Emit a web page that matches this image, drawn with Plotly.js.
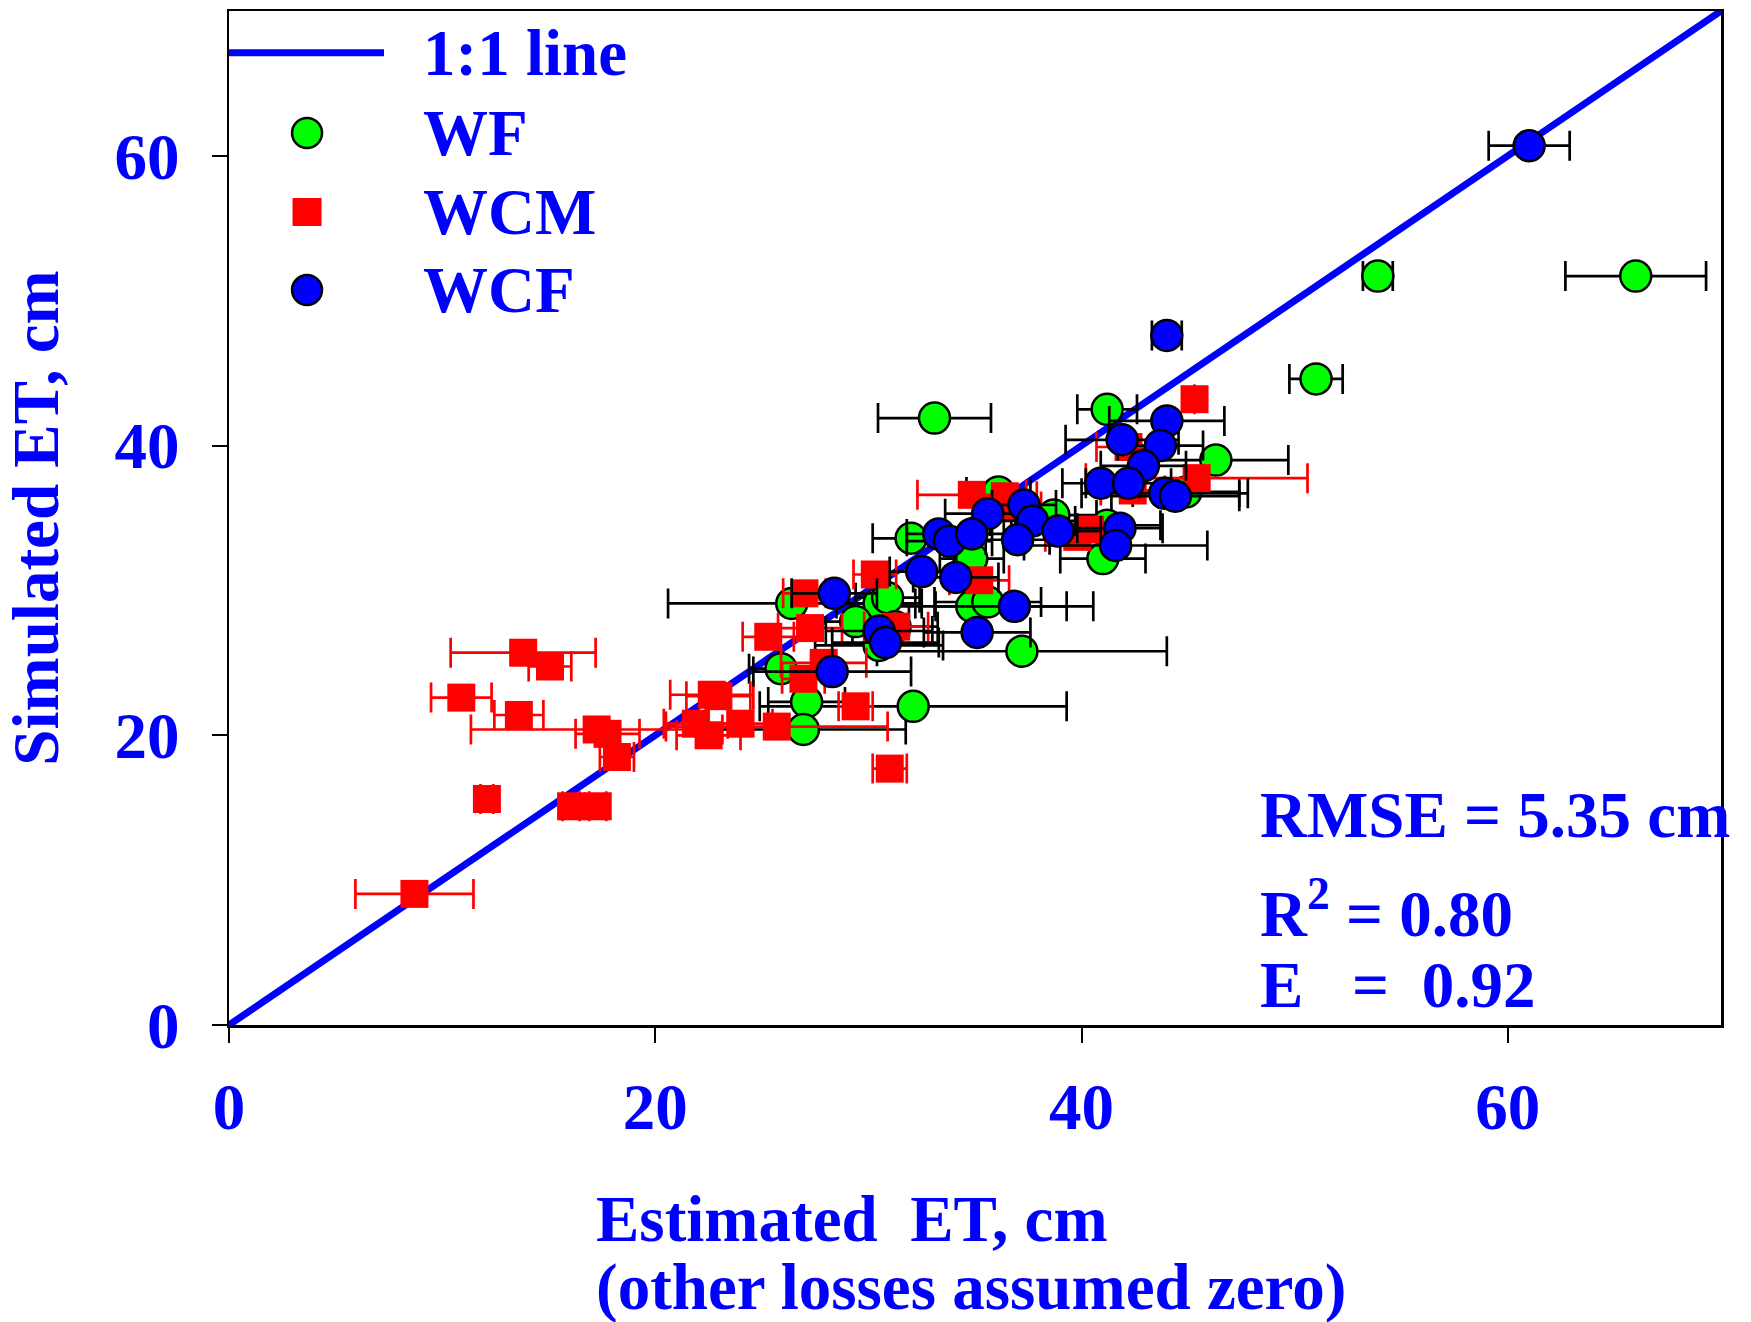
<!DOCTYPE html>
<html>
<head>
<meta charset="utf-8">
<script src="https://cdn.plot.ly/plotly-3.0.1.min.js"></script>
<style>html,body{margin:0;padding:0;background:#fff;}</style>
</head>
<body>
<div id="chart" style="width:1751px;height:1322px;"></div>
<script>
// ---- data ----
const oneToOneX = [0, 70];
const oneToOneY = [0, 70];

const wfX   = [66.0, 53.9, 51.0, 33.1, 41.2, 46.3, 44.9, 36.1, 38.7, 41.2, 41.0, 32.0, 34.85, 30.5, 30.9, 34.85, 35.6, 29.4, 30.5, 31.25, 37.2, 26.4, 25.9, 27.1, 26.95, 32.1];
const wfY   = [51.7, 51.7, 44.6, 41.9, 42.5, 39.0, 36.8, 36.8, 35.2, 34.5, 32.2, 33.6, 32.2, 29.1, 29.5, 28.9, 29.2, 27.85, 26.2, 27.5, 25.8, 29.1, 24.6, 22.3, 20.4, 22.0];
const wfErr = [3.3, 0.7, 1.25, 2.65, 1.4, 3.4, 2.5, 1.5, 2.0, 2.5, 2.0, 1.8, 1.5, 2.0, 1.5, 4.45, 2.5, 2.5, 3.0, 2.0, 6.8, 5.8, 1.5, 1.8, 4.8, 7.2];

const wcmX   = [8.7, 12.1, 16.05, 17.3, 13.8, 15.06, 10.9, 13.6, 17.25, 17.76, 18.2, 22.65, 22.96, 21.9, 22.5, 24.0, 25.7, 29.4, 31.0, 25.3, 26.95, 27.9, 27.26, 27.0, 30.3, 31.3, 34.85, 36.4, 35.2, 39.8, 40.4, 45.3, 42.2, 45.4, 42.4, 36.6];
const wcmY   = [9.05, 15.6, 15.1, 15.1, 25.7, 24.75, 22.6, 21.4, 20.4, 20.1, 18.5, 22.8, 22.7, 20.8, 20.0, 20.8, 20.6, 22.0, 17.7, 26.8, 23.9, 25.0, 27.4, 29.8, 31.1, 27.5, 36.6, 36.5, 30.7, 33.7, 34.2, 43.2, 39.9, 37.75, 36.9, 35.8];
const wcmErr = [2.77, 0.3, 0.4, 0.4, 3.4, 1.0, 1.42, 1.15, 5.9, 1.5, 0.8, 1.95, 1.5, 1.5, 1.5, 1.5, 5.2, 0.8, 0.8, 1.2, 1.0, 2.0, 1.5, 1.0, 1.0, 1.5, 2.55, 1.5, 1.4, 1.5, 1.5, 0, 1.5, 5.2, 1.5, 1.5];

const wcfX   = [61.0, 44.0, 44.0, 41.9, 43.7, 42.9, 40.9, 42.2, 43.9, 44.4, 37.3, 37.7, 38.9, 37.0, 41.8, 41.6, 35.6, 33.3, 33.8, 34.85, 32.5, 34.1, 28.4, 36.85, 30.5, 30.8, 35.1, 28.3];
const wcfY   = [60.7, 47.6, 41.7, 40.4, 40.0, 38.6, 37.4, 37.4, 36.7, 36.5, 35.9, 34.8, 34.1, 33.5, 34.3, 33.1, 35.3, 33.9, 33.4, 33.9, 31.3, 30.9, 29.8, 28.9, 27.2, 26.4, 27.1, 24.4];
const wcfErr = [1.9, 0.7, 2.7, 2.65, 2.0, 2.0, 1.8, 2.0, 3.9, 3.0, 1.5, 2.0, 2.0, 1.5, 2.0, 4.3, 2.0, 1.5, 2.0, 1.5, 1.5, 2.0, 2.0, 3.7, 2.5, 2.5, 2.5, 3.7];

const tickVals = [0, 20, 40, 60];
const tickText = ['0', '20', '40', '60'];
const seriesNames = ['1:1 line', 'WF', 'WCM', 'WCF'];
const statsLines = ['RMSE = 5.35 cm', 'R<sup>2</sup> = 0.80', 'E\u00A0\u00A0\u00A0=\u00A0\u00A00.92'];
const xTitleLines = ['Estimated\u00A0\u00A0ET, cm', '(other losses assumed zero)'];
const yTitle = 'Simulated ET, cm';

// ---- styles ----
const FONT = "'Liberation Serif', 'Times New Roman', serif";
const BLUE = '#0000FF';
const txt = (size) => ({family: FONT, size: size, color: BLUE, weight: 700});

const traces = [
  {x: oneToOneX, y: oneToOneY, mode: 'lines', name: seriesNames[0],
   line: {color: BLUE, width: 7}, showlegend: false, hoverinfo: 'skip'},
  {x: wfX, y: wfY, mode: 'markers', name: seriesNames[1], showlegend: false,
   marker: {symbol: 'circle', size: 31, color: '#00FF00', line: {color: '#000', width: 2.5}},
   error_x: {type: 'data', array: wfErr, visible: true, color: '#000', thickness: 2.7, width: 15}},
  {x: wcmX, y: wcmY, mode: 'markers', name: seriesNames[2], showlegend: false,
   marker: {symbol: 'square', size: 28, color: '#FF0000', line: {width: 0}},
   error_x: {type: 'data', array: wcmErr, visible: true, color: '#FF0000', thickness: 2.7, width: 15}},
  {x: wcfX, y: wcfY, mode: 'markers', name: seriesNames[3], showlegend: false,
   marker: {symbol: 'circle', size: 31, color: BLUE, line: {color: '#000', width: 2.5}},
   error_x: {type: 'data', array: wcfErr, visible: true, color: '#000', thickness: 2.7, width: 15}}
];

// legend drawn in paper coordinates
const legX = 0.0523, legTextX = 0.129;
const legY = [0.9589, 0.8797, 0.8018, 0.7249];
const shapes = [
  {type: 'line', xref: 'paper', yref: 'paper', x0: 0, x1: 0.1039, y0: legY[0], y1: legY[0],
   line: {color: BLUE, width: 7}},
  {type: 'circle', xref: 'paper', yref: 'paper', xsizemode: 'pixel', ysizemode: 'pixel',
   xanchor: legX, yanchor: legY[1], x0: -15, x1: 15, y0: -15, y1: 15,
   fillcolor: '#00FF00', line: {color: '#000', width: 2.5}},
  {type: 'rect', xref: 'paper', yref: 'paper', xsizemode: 'pixel', ysizemode: 'pixel',
   xanchor: legX, yanchor: legY[2], x0: -14.5, x1: 14.5, y0: -14, y1: 14,
   fillcolor: '#FF0000', line: {width: 0}},
  {type: 'circle', xref: 'paper', yref: 'paper', xsizemode: 'pixel', ysizemode: 'pixel',
   xanchor: legX, yanchor: legY[3], x0: -15, x1: 15, y0: -15, y1: 15,
   fillcolor: BLUE, line: {color: '#000', width: 2.5}}
];

const annotations = [];
seriesNames.forEach((n, i) => annotations.push({
  xref: 'paper', yref: 'paper', x: legTextX, y: legY[i], xanchor: 'left', yanchor: 'middle',
  text: n, showarrow: false, font: txt(65)
}));
const statsY = [0.207, 0.114, 0.0394];
statsLines.forEach((t, i) => annotations.push({
  xref: 'paper', yref: 'paper', x: 0.690, y: statsY[i], xanchor: 'left', yanchor: 'middle',
  text: t, showarrow: false, font: txt(65)
}));
const xTitleY = [-0.191, -0.2585];
xTitleLines.forEach((t, i) => annotations.push({
  xref: 'paper', yref: 'paper', x: 0.2446, y: xTitleY[i], xanchor: 'left', yanchor: 'middle',
  text: t, showarrow: false, font: txt(65)
}));

const axisCommon = {
  range: [0, 70], tickmode: 'array', tickvals: tickVals, ticktext: tickText,
  ticks: 'outside', ticklen: 15, tickwidth: 2, tickcolor: '#000',
  showline: true, linecolor: '#000', linewidth: 2.5, mirror: true,
  showgrid: false, zeroline: false, tickfont: txt(65), fixedrange: true
};

const layout = {
  width: 1751, height: 1322,
  margin: {l: 229, r: 30, t: 11, b: 297},
  paper_bgcolor: '#fff', plot_bgcolor: '#fff',
  showlegend: false,
  xaxis: Object.assign({}, axisCommon, {ticklabelstandoff: 8}),
  yaxis: Object.assign({}, axisCommon, {ticklabelstandoff: 19,
    title: {text: yTitle, font: txt(65), standoff: 44}}),
  shapes: shapes,
  annotations: annotations
};

Plotly.newPlot('chart', traces, layout, {displayModeBar: false, staticPlot: true});
</script>
</body>
</html>
